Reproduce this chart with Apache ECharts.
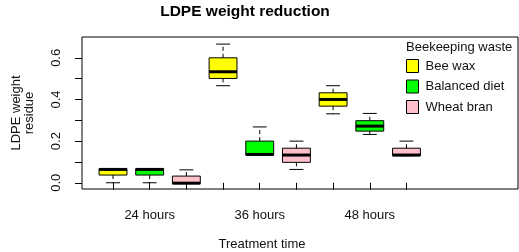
<!DOCTYPE html>
<html>
<head>
<meta charset="utf-8">
<script src="https://cdn.jsdelivr.net/npm/echarts@6/dist/echarts.min.js"></script>
<style>
  html, body { margin: 0; padding: 0; background: #fff; }
  #chart { width: 519px; height: 252px; }
</style>
</head>
<body>
<div id="chart"></div>
<script>
// treatment times and waste types
const times = ['24 hours', '36 hours', '48 hours']
const groups = ['Bee wax', 'Balanced diet', 'Wheat bran']
const groupColors = ['#ffff00', '#00ff00', '#ffc0cb']

// box stats per time: [lower whisker, q1, median, q3, upper whisker]
const beeWax = [
  [0.0, 0.037, 0.064, 0.068, 0.068],
  [0.466, 0.501, 0.533, 0.600, 0.666],
  [0.331, 0.368, 0.400, 0.432, 0.466]
]
const balancedDiet = [
  [0.0, 0.037, 0.064, 0.068, 0.068],
  [0.133, 0.133, 0.136, 0.200, 0.268],
  [0.232, 0.248, 0.272, 0.298, 0.333]
]
const wheatBran = [
  [-0.004, -0.004, -0.002, 0.032, 0.062],
  [0.064, 0.098, 0.133, 0.166, 0.200],
  [0.130, 0.130, 0.133, 0.166, 0.200]
]
const groupStats = [beeWax, balancedDiet, wheatBran]

// y ticks / labels
const yTicks = [0, 0.1, 0.2, 0.3, 0.4, 0.5, 0.6]
const yLabels = [0, 0.2, 0.4, 0.6]

const FONT = '"Liberation Sans", Arial, sans-serif'

// box slot on the x axis: 1..9
function slot(t, g) {
  return t * groups.length + g + 1
}
const xTicks = []
times.forEach((_, t) => groups.forEach((_, g) => xTicks.push(slot(t, g))))
const xLabelPos = times.map((_, t) => slot(t, 1))

const chart = echarts.init(document.getElementById('chart'))

// 画箱线
function renderBox(params, api) {
  const x = api.value(0)
  const lo = api.coord([x, api.value(1)])
  const q1 = api.coord([x, api.value(2)])
  const med = api.coord([x, api.value(3)])
  const q3 = api.coord([x, api.value(4)])
  const hi = api.coord([x, api.value(5)])
  const half = api.size([0.38, 0])[0]
  const cap = half / 2
  const cx = lo[0]
  const line = { stroke: '#000', lineWidth: 1 }
  const dashed = { stroke: '#000', lineWidth: 1, lineDash: [4, 3] }
  return {
    type: 'group',
    children: [
      { type: 'line', shape: { x1: cx, y1: q3[1], x2: cx, y2: hi[1] }, style: dashed },
      { type: 'line', shape: { x1: cx, y1: q1[1], x2: cx, y2: lo[1] }, style: dashed },
      { type: 'line', shape: { x1: cx - cap, y1: hi[1], x2: cx + cap, y2: hi[1] }, style: line },
      { type: 'line', shape: { x1: cx - cap, y1: lo[1], x2: cx + cap, y2: lo[1] }, style: line },
      {
        type: 'rect',
        shape: { x: cx - half, y: q3[1], width: half * 2, height: q1[1] - q3[1] },
        style: { fill: api.visual('color'), stroke: '#000', lineWidth: 1 }
      },
      { type: 'line', shape: { x1: cx - half, y1: med[1], x2: cx + half, y2: med[1] }, style: { stroke: '#000', lineWidth: 3 } }
    ]
  }
}

const series = groups.map((name, g) => ({
  name: name,
  type: 'custom',
  renderItem: renderBox,
  itemStyle: { color: groupColors[g], borderColor: '#000', borderWidth: 1 },
  encode: { x: 0, y: [1, 2, 3, 4, 5] },
  data: groupStats[g].map((s, t) => [slot(t, g)].concat(s))
}))

const option = {
  animation: false,
  textStyle: { fontFamily: FONT },
  title: [
    {
      text: 'LDPE weight reduction',
      left: 240,
      top: -1,
      textAlign: 'center',
      textStyle: { fontFamily: FONT, fontSize: 15.5, fontWeight: 'bold', color: '#000' }
    },
    {
      text: 'Treatment time',
      left: 257,
      top: 233,
      textAlign: 'center',
      textStyle: { fontFamily: FONT, fontSize: 13, fontWeight: 'normal', color: '#111' }
    }
  ],
  grid: {
    left: 82,
    top: 37,
    right: 1,
    bottom: 63,
    show: true,
    borderColor: '#000',
    borderWidth: 1,
    backgroundColor: 'transparent'
  },
  legend: {
    orient: 'vertical',
    left: 406,
    top: 59,
    padding: 0,
    icon: 'rect',
    itemWidth: 12,
    itemHeight: 13,
    itemGap: 6.5,
    selectedMode: false,
    textStyle: { fontFamily: FONT, fontSize: 13, color: '#111', lineHeight: 13, padding: [0, 0, 0, 2] },
    data: groups.map((name, g) => ({
      name: name,
      itemStyle: { color: groupColors[g], borderColor: '#000', borderWidth: 1 }
    }))
  },
  graphic: [
    {
      type: 'text',
      left: 406,
      top: 41,
      style: { text: 'Beekeeping waste', font: '13px ' + FONT, fill: '#111' }
    }
  ],
  xAxis: {
    type: 'value',
    min: 0.155,
    max: 12.04,
    splitLine: { show: false },
    axisLine: { show: false },
    axisTick: { show: true, length: 7, customValues: xTicks, lineStyle: { color: '#000' } },
    axisLabel: {
      customValues: xLabelPos,
      margin: 20,
      fontSize: 13,
      color: '#111',
      fontFamily: FONT,
      formatter: (v) => times[xLabelPos.indexOf(Math.round(v))] || ''
    }
  },
  yAxis: {
    type: 'value',
    min: -0.03,
    max: 0.7,
    name: 'LDPE weight\nresidue',
    nameLocation: 'middle',
    nameRotate: 90,
    nameGap: 46,
    nameTextStyle: { fontFamily: FONT, fontSize: 13, color: '#111', lineHeight: 13 },
    splitLine: { show: false },
    axisLine: { show: false },
    axisTick: { show: true, length: 7, customValues: yTicks, lineStyle: { color: '#000' } },
    axisLabel: {
      customValues: yLabels,
      rotate: 90,
      margin: 19,
      fontSize: 13,
      color: '#111',
      fontFamily: FONT,
      formatter: (v) => v.toFixed(1)
    }
  },
  series: series
}

chart.setOption(option)
</script>
</body>
</html>
